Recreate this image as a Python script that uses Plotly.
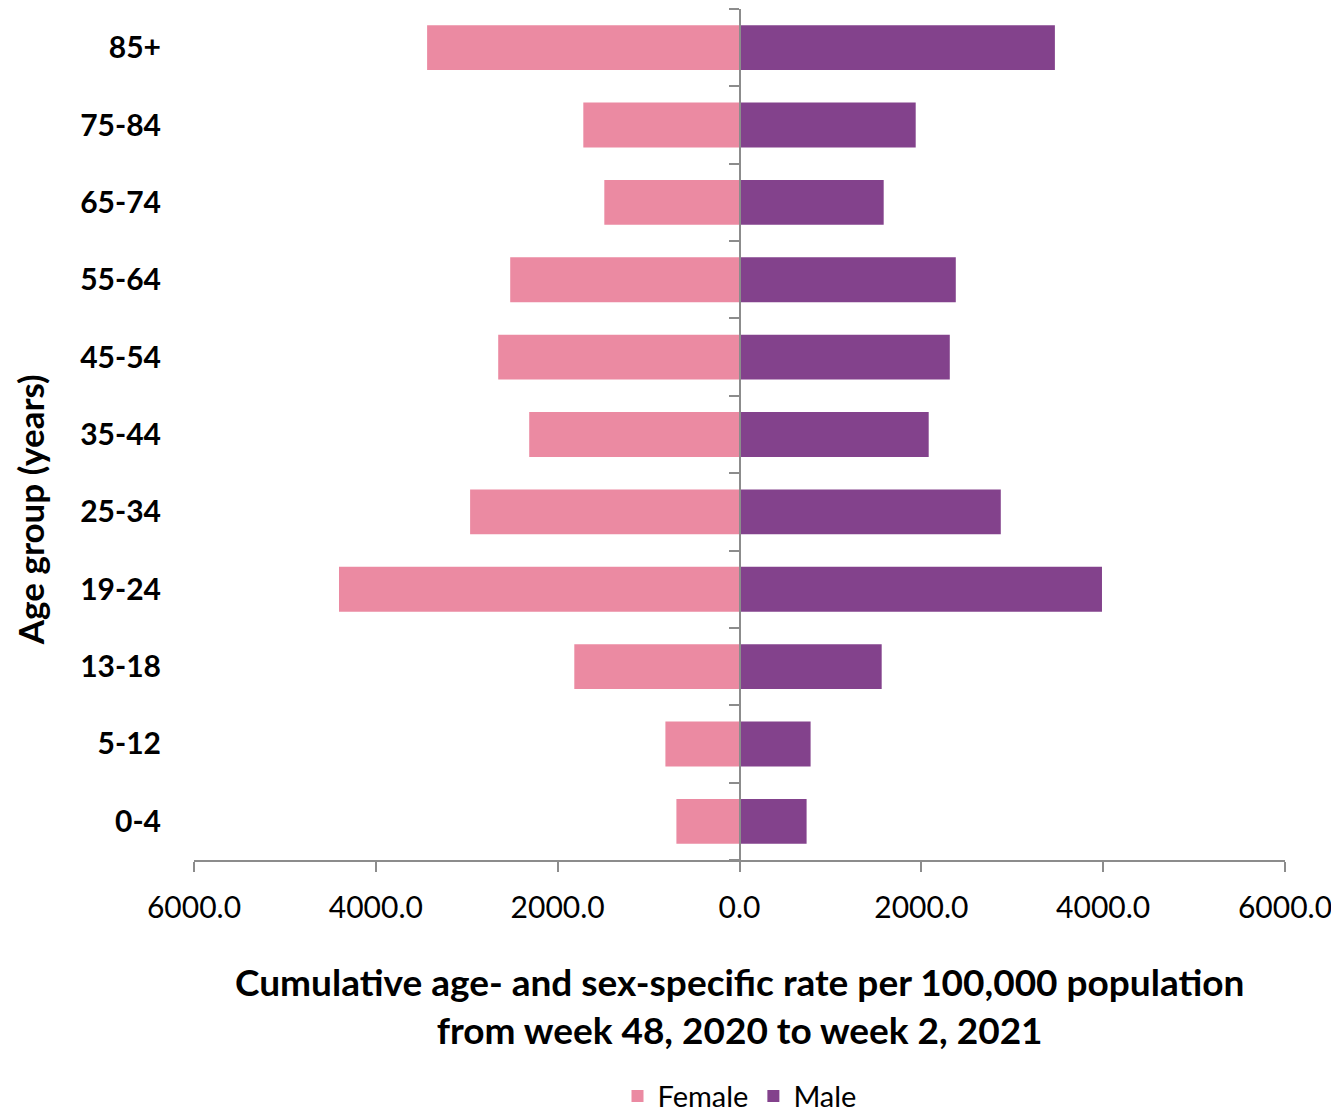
import plotly.graph_objects as go

age_groups = ["0-4", "5-12", "13-18", "19-24", "25-34", "35-44", "45-54", "55-64", "65-74", "75-84", "85+"]
female = [694, 815, 1817, 4405, 2963, 2313, 2654, 2522, 1487, 1718, 3436]
male = [738, 782, 1564, 3987, 2874, 2081, 2313, 2379, 1586, 1938, 3469]
x_ticks = [-6000, -4000, -2000, 0, 2000, 4000, 6000]
x_tick_text = ["6000.0", "4000.0", "2000.0", "0.0", "2000.0", "4000.0", "6000.0"]

FONT = "Lato"
fig = go.Figure()
fig.add_trace(go.Bar(y=age_groups, x=[-v for v in female], orientation="h", name="Female",
                     marker=dict(color="#EB8AA2", line=dict(width=0)),
                     customdata=female, hovertemplate="%{y}: %{customdata}<extra>Female</extra>"))
fig.add_trace(go.Bar(y=age_groups, x=male, orientation="h", name="Male",
                     marker=dict(color="#83428C", line=dict(width=0))))
# invisible trace to carry the central axis
fig.add_trace(go.Scatter(y=age_groups, x=[0]*len(age_groups), yaxis="y2", mode="markers",
                         marker=dict(opacity=0), showlegend=False, hoverinfo="skip"))

fig.update_layout(
    width=1331, height=1111,
    margin=dict(l=186, r=54, t=1, b=259, autoexpand=False),
    plot_bgcolor="white", paper_bgcolor="white",
    barmode="relative", bargap=0.42,
    font=dict(family=FONT, color="black"),
    xaxis=dict(range=[-6000, 6000], tickvals=x_ticks, ticktext=x_tick_text,
               showgrid=False, zeroline=False, showline=True, linecolor="#8c8c8c", linewidth=2,
               ticks="outside", ticklen=10, tickwidth=2, tickcolor="#8c8c8c",
               ticklabelstandoff=10,
               tickfont=dict(size=30, family=FONT)),
    yaxis=dict(categoryorder="array", categoryarray=age_groups, showgrid=False,
               showline=False, ticks="", ticklabelstandoff=32,
               tickfont=dict(size=30, family=FONT, weight="bold"),
               range=[-0.5, 10.5]),
    yaxis2=dict(overlaying="y", anchor="free", position=0.5, matches="y",
                showline=True, linecolor="#8c8c8c", linewidth=2,
                ticks="outside", tickson="boundaries", ticklen=10, tickwidth=2, tickcolor="#8c8c8c",
                showticklabels=False, showgrid=False),
    legend=dict(orientation="h", x=0.5, xanchor="center", y=-0.2775, yanchor="middle",
                font=dict(size=29, family=FONT), itemwidth=30, traceorder="normal"),
    showlegend=True,
)
fig.add_annotation(text="Age group (years)", textangle=-90, xref="paper", yref="paper",
                   x=-0.1503, y=0.411, xanchor="center", yanchor="middle", showarrow=False,
                   font=dict(size=35, family=FONT, weight="bold"))
fig.add_annotation(text="Cumulative age- and sex-specific rate per 100,000 population<br>from week 48, 2020 to week 2, 2021",
                   xref="paper", yref="paper", x=0.5, y=-0.1704, xanchor="center", yanchor="middle",
                   showarrow=False, font=dict(size=37, family=FONT, weight="bold"))
fig.write_html("out.html")
